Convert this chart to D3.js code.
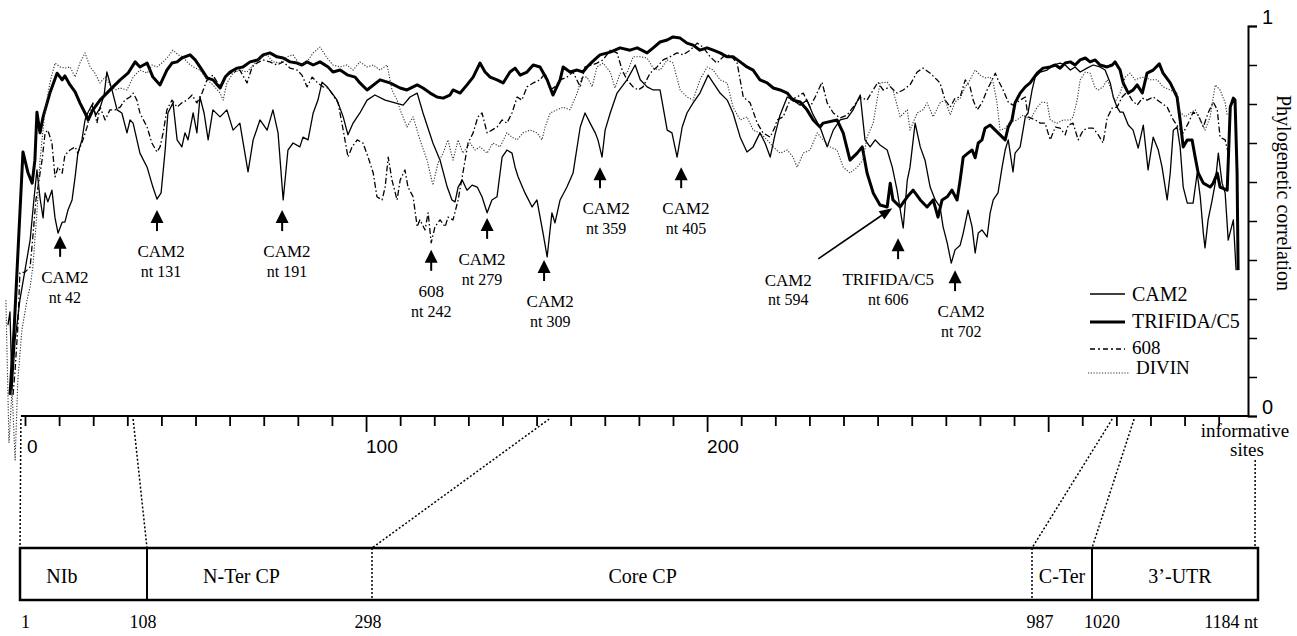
<!DOCTYPE html>
<html>
<head>
<meta charset="utf-8">
<script src="https://cdn.jsdelivr.net/npm/d3@7"></script>
<style>
  body { margin: 0; background: #fff; }
  svg { display: block; }
</style>
</head>
<body>
<svg id="chart" width="1297" height="636"></svg>
<script>
// ── DATA : [informative site, phylogenetic correlation] ────────────────────
const cam2 = [
[-5.0,0.233],[-4.4,0.267],[-3.8,0.067],[-2.9,0.195],[-1.5,0.297],[0,0.374],[1.5,0.451],[2.6,0.554],[3.5,0.631],[4.4,0.559],[5.3,0.508],[5.9,0.572],[6.7,0.549],[7.9,0.579],[8.8,0.508],[9.7,0.469],[10.9,0.497],[11.7,0.497],[12.6,0.528],[13.8,0.554],[14.7,0.613],[15.5,0.674],[16.7,0.708],[17.6,0.759],[18.5,0.779],[19.6,0.797],[20.8,0.772],[22.0,0.790],[23.2,0.823],[24.0,0.882],[25.5,0.836],[27.0,0.785],[28.4,0.777],[29.9,0.726],[30.8,0.759],[31.7,0.751],[33.7,0.674],[35.8,0.638],[37.5,0.587],[38.7,0.556],[39.9,0.572],[41.1,0.682],[41.9,0.777],[43.4,0.803],[44.6,0.708],[46.0,0.690],[46.9,0.726],[47.8,0.708],[49.3,0.777],[50.4,0.726],[51.3,0.818],[52.5,0.777],[53.7,0.708],[55.1,0.785],[57.2,0.767],[59.2,0.785],[61.0,0.733],[63.0,0.751],[65.4,0.626],[66.9,0.708],[68.9,0.759],[71.0,0.733],[72.7,0.785],[74.2,0.726],[75.7,0.554],[77.1,0.682],[78.6,0.700],[80.6,0.690],[81.5,0.715],[83.0,0.708],[84.5,0.777],[85.9,0.810],[87.1,0.856],[88.6,0.844],[90.0,0.828],[91.5,0.810],[93.3,0.767],[94.7,0.721],[96.2,0.751],[98.2,0.777],[100.3,0.810],[102.6,0.823],[105.6,0.810],[108.5,0.803],[110.9,0.797],[112.9,0.818],[115.0,0.828],[116.7,0.777],[119.6,0.700],[121.7,0.656],[123.8,0.587],[125.2,0.554],[126.1,0.549],[127.0,0.587],[128.2,0.605],[129.6,0.579],[131.1,0.592],[132.6,0.587],[134.0,0.562],[135.5,0.521],[136.9,0.554],[138.4,0.562],[139.9,0.664],[141.3,0.682],[142.8,0.674],[143.7,0.638],[144.6,0.613],[146.6,0.572],[148.7,0.536],[150.1,0.554],[151.9,0.469],[153.1,0.408],[154.5,0.521],[155.4,0.495],[156.9,0.554],[158.9,0.587],[160.7,0.623],[162.8,0.741],[164.2,0.777],[165.7,0.751],[167.2,0.726],[168.0,0.708],[169.2,0.664],[170.1,0.733],[171.6,0.777],[173.6,0.828],[176.5,0.862],[178.9,0.900],[180.4,0.862],[182.4,0.844],[184.2,0.836],[186.2,0.836],[188.3,0.733],[189.7,0.726],[191.2,0.664],[192.7,0.741],[194.1,0.777],[195.9,0.803],[197.9,0.828],[200.3,0.874],[201.8,0.854],[203.8,0.828],[205.9,0.810],[207.6,0.777],[209.7,0.715],[211.7,0.677],[213.5,0.690],[215.5,0.726],[217.0,0.700],[218.5,0.664],[219.9,0.721],[221.4,0.772],[223.5,0.818],[225.2,0.810],[227.3,0.797],[229.3,0.810],[231.1,0.772],[233.1,0.741],[235.2,0.690],[237.0,0.733],[239.0,0.759],[241.1,0.764],[242.8,0.785],[244.9,0.823],[246.3,0.708],[247.8,0.690],[249.3,0.708],[250.7,0.695],[252.8,0.682],[254.3,0.638],[255.7,0.579],[257.5,0.482],[258.7,0.605],[259.5,0.638],[261.0,0.751],[262.5,0.690],[263.9,0.656],[265.4,0.587],[266.9,0.554],[268.3,0.536],[269.2,0.485],[270.4,0.444],[271.6,0.392],[272.7,0.426],[274.2,0.438],[275.1,0.469],[276.5,0.528],[277.7,0.485],[278.6,0.418],[279.5,0.469],[280.6,0.477],[282.1,0.459],[283.0,0.521],[283.9,0.554],[285.3,0.572],[286.5,0.638],[287.4,0.682],[288.3,0.708],[289.7,0.626],[290.3,0.674],[291.8,0.690],[293.3,0.767],[294.1,0.777],[295.3,0.836],[296.2,0.869],[297.7,0.882],[299.7,0.887],[301.5,0.900],[303.5,0.905],[305.0,0.900],[306.5,0.887],[307.9,0.895],[309.4,0.882],[311.4,0.892],[313.2,0.900],[315.2,0.895],[316.7,0.887],[318.2,0.854],[319.1,0.818],[320.2,0.792],[321.1,0.779],[322.0,0.779],[323.5,0.746],[324.9,0.733],[326.4,0.687],[327.9,0.746],[329.3,0.631],[330.8,0.715],[332.3,0.682],[333.4,0.638],[334.9,0.554],[335.8,0.623],[336.7,0.733],[337.8,0.741],[338.7,0.690],[339.6,0.587],[340.8,0.546],[342.5,0.546],[343.7,0.623],[344.6,0.562],[345.5,0.469],[346.0,0.431],[346.9,0.503],[348.1,0.554],[349.0,0.597],[349.9,0.674],[351.0,0.597],[351.9,0.572],[352.8,0.451],[354.3,0.503],[355.1,0.374]
];

const trifida = [
[-4.4,0.054],[-3.2,0.221],[-0.6,0.677],[0.9,0.623],[2.1,0.597],[2.9,0.656],[3.5,0.779],[4.4,0.726],[5.3,0.767],[7.3,0.828],[9.4,0.879],[10.9,0.862],[11.7,0.872],[13.2,0.849],[14.7,0.831],[16.1,0.803],[17.6,0.777],[18.5,0.759],[19.9,0.785],[22.0,0.810],[24.0,0.828],[25.8,0.844],[27.9,0.862],[30.2,0.879],[32.3,0.908],[33.7,0.895],[35.8,0.905],[37.5,0.869],[39.6,0.849],[41.6,0.887],[43.1,0.905],[44.6,0.908],[46.0,0.918],[48.4,0.926],[49.9,0.913],[51.3,0.895],[53.4,0.867],[55.1,0.862],[57.2,0.841],[58.7,0.869],[60.1,0.882],[62.2,0.892],[63.9,0.895],[66.0,0.908],[68.3,0.913],[69.8,0.926],[71.8,0.931],[73.9,0.921],[75.7,0.918],[77.7,0.908],[79.8,0.905],[81.2,0.900],[82.7,0.908],[84.5,0.900],[86.5,0.908],[88.9,0.895],[90.3,0.882],[92.4,0.887],[94.7,0.874],[96.8,0.869],[98.2,0.854],[100.3,0.836],[104.1,0.862],[107.0,0.854],[110.0,0.841],[112.0,0.836],[115.0,0.849],[116.7,0.841],[118.8,0.828],[120.8,0.818],[122.6,0.815],[124.6,0.823],[125.5,0.836],[127.6,0.828],[129.6,0.849],[131.4,0.869],[133.4,0.905],[134.9,0.882],[136.4,0.869],[138.4,0.862],[140.2,0.854],[142.2,0.882],[143.7,0.892],[145.2,0.874],[147.2,0.882],[149.0,0.900],[151.0,0.895],[153.1,0.862],[154.8,0.823],[156.9,0.862],[157.8,0.895],[159.8,0.882],[161.9,0.887],[163.6,0.882],[164.8,0.895],[166.3,0.908],[168.6,0.926],[171.6,0.933],[174.5,0.944],[177.4,0.938],[179.5,0.944],[182.4,0.931],[184.2,0.944],[186.2,0.959],[188.3,0.964],[190.0,0.972],[192.1,0.969],[194.1,0.956],[195.9,0.951],[197.9,0.938],[200.0,0.944],[201.8,0.938],[203.8,0.931],[205.9,0.921],[207.6,0.921],[209.7,0.908],[211.7,0.895],[213.5,0.887],[215.5,0.862],[217.6,0.854],[219.4,0.841],[221.4,0.836],[223.5,0.828],[225.2,0.810],[227.3,0.805],[229.3,0.785],[231.1,0.759],[233.1,0.741],[234.0,0.751],[238.1,0.759],[239.9,0.726],[241.9,0.656],[244.0,0.674],[245.5,0.690],[246.9,0.623],[248.7,0.572],[250.7,0.541],[252.8,0.536],[253.7,0.597],[254.5,0.554],[256.6,0.536],[258.7,0.562],[260.4,0.579],[262.5,0.554],[264.5,0.536],[266.3,0.554],[267.7,0.510],[268.9,0.554],[270.4,0.562],[271.8,0.579],[273.3,0.554],[274.2,0.605],[275.1,0.664],[276.5,0.674],[277.7,0.682],[278.6,0.662],[279.5,0.700],[280.6,0.708],[281.5,0.738],[283.0,0.746],[284.5,0.733],[285.9,0.721],[287.4,0.708],[288.3,0.741],[289.4,0.759],[290.3,0.803],[291.8,0.828],[293.3,0.844],[294.7,0.854],[296.8,0.879],[298.5,0.892],[300.6,0.895],[302.1,0.900],[303.5,0.892],[305.0,0.905],[306.5,0.908],[307.9,0.900],[309.4,0.913],[310.9,0.918],[312.3,0.908],[313.8,0.913],[315.2,0.900],[317.3,0.895],[318.8,0.900],[319.6,0.908],[321.1,0.887],[322.0,0.854],[323.5,0.828],[324.9,0.836],[326.1,0.849],[327.6,0.828],[329.0,0.879],[330.8,0.887],[332.6,0.903],[333.7,0.879],[335.8,0.854],[337.8,0.818],[338.7,0.759],[339.6,0.690],[340.8,0.708],[342.2,0.708],[343.1,0.664],[344.0,0.623],[345.5,0.597],[347.5,0.587],[348.4,0.597],[349.6,0.623],[350.4,0.587],[352.5,0.579],[353.4,0.792],[354.3,0.815],[354.8,0.810],[355.4,0.623],[355.7,0.374]
];

const s608 = [
[-3.5,0.054],[-2.9,0.118],[-2.1,0.228],[-1.5,0.367],[0,0.369],[1.5,0.382],[2.3,0.459],[3.2,0.554],[3.8,0.587],[5.0,0.656],[5.9,0.726],[6.7,0.733],[7.9,0.700],[8.8,0.613],[9.7,0.638],[10.9,0.623],[11.7,0.669],[13.2,0.682],[14.7,0.690],[15.5,0.674],[17.0,0.708],[18.2,0.741],[19.1,0.777],[19.9,0.803],[21.1,0.751],[22.0,0.792],[23.5,0.759],[24.9,0.785],[26.4,0.785],[27.9,0.792],[29.3,0.810],[30.8,0.818],[31.7,0.828],[32.8,0.810],[33.7,0.777],[35.8,0.741],[37.2,0.700],[38.7,0.677],[39.6,0.690],[40.5,0.726],[41.6,0.785],[43.1,0.810],[44.6,0.792],[46.0,0.803],[47.5,0.810],[49.0,0.823],[50.4,0.803],[51.9,0.828],[53.4,0.862],[55.1,0.874],[57.2,0.844],[59.2,0.874],[61.0,0.882],[63.0,0.887],[65.1,0.854],[66.6,0.895],[68.0,0.905],[69.8,0.913],[71.8,0.908],[73.9,0.900],[75.7,0.908],[77.7,0.892],[79.8,0.887],[81.2,0.874],[82.7,0.844],[84.2,0.869],[85.6,0.856],[87.4,0.844],[88.9,0.841],[90.3,0.823],[91.8,0.803],[93.3,0.733],[94.7,0.664],[95.9,0.690],[97.4,0.708],[99.1,0.700],[100.6,0.664],[102.1,0.623],[103.2,0.562],[104.7,0.554],[105.6,0.587],[106.5,0.664],[107.6,0.605],[109.1,0.554],[110.0,0.605],[111.4,0.631],[112.3,0.587],[113.8,0.562],[115.0,0.485],[115.8,0.503],[117.3,0.477],[118.2,0.521],[119.1,0.444],[120.2,0.485],[121.7,0.503],[123.2,0.485],[124.0,0.510],[125.5,0.503],[127.0,0.554],[128.4,0.623],[129.9,0.700],[131.4,0.726],[132.8,0.767],[134.0,0.777],[135.5,0.726],[136.9,0.733],[138.4,0.741],[139.9,0.759],[141.3,0.751],[142.8,0.777],[144.3,0.818],[145.7,0.810],[147.2,0.844],[149.0,0.854],[151.0,0.862],[152.5,0.879],[154.0,0.836],[155.4,0.844],[156.9,0.862],[158.9,0.869],[160.7,0.882],[162.8,0.844],[164.2,0.895],[166.3,0.900],[167.7,0.905],[169.5,0.913],[171.6,0.938],[173.6,0.931],[175.1,0.887],[176.5,0.862],[178.3,0.844],[179.8,0.836],[181.2,0.844],[183.3,0.879],[185.3,0.895],[187.1,0.913],[189.1,0.921],[191.2,0.931],[193.0,0.926],[195.0,0.938],[197.1,0.956],[198.8,0.946],[200.9,0.921],[202.9,0.905],[204.7,0.921],[206.7,0.926],[208.8,0.905],[210.6,0.818],[212.6,0.803],[214.7,0.751],[216.4,0.726],[218.5,0.715],[219.9,0.741],[220.5,0.759],[222.3,0.767],[224.3,0.810],[226.4,0.818],[228.2,0.828],[230.2,0.792],[231.7,0.818],[233.7,0.856],[235.2,0.803],[237.0,0.777],[239.0,0.764],[241.1,0.772],[242.8,0.792],[244.9,0.818],[246.9,0.810],[248.7,0.836],[250.1,0.856],[251.6,0.836],[253.7,0.844],[255.7,0.828],[257.5,0.836],[259.5,0.849],[261.6,0.882],[263.3,0.892],[265.4,0.879],[267.4,0.862],[268.3,0.854],[269.8,0.810],[271.3,0.792],[272.7,0.815],[274.2,0.818],[275.7,0.862],[277.1,0.844],[278.0,0.810],[279.2,0.785],[280.6,0.803],[282.1,0.836],[283.6,0.862],[284.5,0.879],[285.3,0.862],[286.8,0.836],[288.3,0.805],[289.7,0.797],[291.8,0.810],[293.3,0.818],[294.1,0.767],[296.2,0.759],[297.7,0.751],[299.1,0.751],[300.6,0.708],[302.1,0.741],[303.5,0.738],[305.0,0.721],[305.9,0.746],[307.3,0.751],[308.8,0.708],[310.3,0.733],[311.7,0.738],[313.2,0.738],[314.7,0.721],[316.1,0.700],[317.3,0.764],[318.8,0.790],[320.2,0.792],[321.7,0.818],[323.2,0.831],[324.6,0.810],[326.1,0.797],[327.6,0.815],[329.0,0.810],[330.8,0.818],[332.8,0.805],[334.9,0.792],[336.7,0.759],[338.1,0.741],[339.6,0.726],[341.1,0.751],[342.5,0.779],[344.0,0.772],[345.5,0.741],[346.9,0.777],[348.4,0.805],[349.6,0.785],[350.4,0.715],[351.9,0.708],[352.8,0.674]
];

const divin = [
[-5.6,0.297],[-4.7,-0.069],[-3.8,0.067],[-2.9,-0.113],[-2.1,0.092],[-0.9,0.221],[0.6,0.297],[1.5,0.331],[2.3,0.382],[3.5,0.521],[4.4,0.656],[5.9,0.785],[7.3,0.854],[8.8,0.905],[10.3,0.895],[11.7,0.892],[13.2,0.895],[14.7,0.869],[16.1,0.905],[17.6,0.931],[19.1,0.895],[20.5,0.879],[22.0,0.854],[23.5,0.869],[24.9,0.849],[26.4,0.836],[27.9,0.841],[29.9,0.836],[31.7,0.869],[33.7,0.887],[35.8,0.879],[37.2,0.900],[38.7,0.895],[40.5,0.908],[41.9,0.921],[43.4,0.938],[44.9,0.926],[46.3,0.921],[47.8,0.905],[49.3,0.895],[51.3,0.887],[53.4,0.862],[55.1,0.849],[57.2,0.828],[58.1,0.810],[59.2,0.854],[61.0,0.879],[63.0,0.887],[65.1,0.882],[66.9,0.900],[68.9,0.918],[71.0,0.926],[72.7,0.908],[74.8,0.905],[76.8,0.921],[78.6,0.926],[80.6,0.900],[82.7,0.908],[84.5,0.931],[86.5,0.946],[88.6,0.918],[90.3,0.900],[92.4,0.895],[94.4,0.900],[96.2,0.887],[98.2,0.908],[100.3,0.895],[102.1,0.900],[104.1,0.887],[106.2,0.900],[107.6,0.836],[109.1,0.810],[110.0,0.785],[112.0,0.741],[113.8,0.767],[115.8,0.708],[117.9,0.656],[119.6,0.592],[121.1,0.649],[122.6,0.674],[124.0,0.708],[125.5,0.656],[127.0,0.708],[128.4,0.674],[130.5,0.700],[132.0,0.682],[133.4,0.690],[135.5,0.674],[137.2,0.700],[139.3,0.690],[141.3,0.726],[142.8,0.715],[144.3,0.708],[146.0,0.726],[148.1,0.733],[150.1,0.726],[151.6,0.708],[152.5,0.741],[154.0,0.777],[156.0,0.785],[157.8,0.792],[159.8,0.785],[161.9,0.828],[163.3,0.869],[164.8,0.869],[166.3,0.844],[167.7,0.895],[169.5,0.905],[171.6,0.882],[173.0,0.841],[174.5,0.879],[176.5,0.879],[178.3,0.921],[180.4,0.921],[182.4,0.918],[184.2,0.892],[186.2,0.887],[188.3,0.913],[190.0,0.905],[192.1,0.836],[194.1,0.818],[195.9,0.810],[197.9,0.862],[200.0,0.895],[201.8,0.887],[203.8,0.862],[205.9,0.854],[207.6,0.792],[209.7,0.759],[211.7,0.767],[213.5,0.733],[215.5,0.726],[217.6,0.708],[219.4,0.690],[221.4,0.674],[223.5,0.682],[225.2,0.664],[226.4,0.638],[228.2,0.674],[230.2,0.682],[232.3,0.726],[234.0,0.708],[236.1,0.690],[238.1,0.682],[239.9,0.638],[241.9,0.623],[244.0,0.638],[245.7,0.656],[246.9,0.715],[248.7,0.751],[250.7,0.854],[252.8,0.856],[254.5,0.836],[256.6,0.767],[258.7,0.785],[259.5,0.733],[261.6,0.777],[263.3,0.785],[264.5,0.803],[266.3,0.767],[268.3,0.803],[269.8,0.810],[271.3,0.772],[272.7,0.805],[274.2,0.815],[275.7,0.844],[277.1,0.862],[278.6,0.887],[280.1,0.874],[281.5,0.867],[283.0,0.869],[283.9,0.854],[285.0,0.803],[285.9,0.733],[287.4,0.738],[288.9,0.754],[290.9,0.759],[292.7,0.772],[294.7,0.759],[296.8,0.792],[298.2,0.805],[299.7,0.803],[300.6,0.759],[302.6,0.751],[304.4,0.759],[306.5,0.759],[307.3,0.767],[308.5,0.810],[309.4,0.862],[310.9,0.882],[312.3,0.879],[313.8,0.841],[314.7,0.836],[316.1,0.844],[317.3,0.862],[318.2,0.844],[319.6,0.805],[321.1,0.828],[322.6,0.869],[324.0,0.879],[325.5,0.862],[327.0,0.867],[328.4,0.869],[329.9,0.862],[332.0,0.862],[333.7,0.844],[335.8,0.836],[337.8,0.828],[338.7,0.779],[340.2,0.767],[341.6,0.777],[343.1,0.785],[344.6,0.759],[346.0,0.733],[347.5,0.767],[349.0,0.849],[350.4,0.836],[351.9,0.803],[352.5,0.772]
];

const seriesNames = ['CAM2', 'TRIFIDA/C5', '608', 'DIVIN'];

// breakpoints: arrow tip (site, correlation), label centre site, label text
const breakSites  = [10.3, 38.7, 75.4, 119.1, 135.5, 152.2, 168.6, 192.4, 256.0, 272.7];
const breakValues = [0.462, 0.528, 0.528, 0.426, 0.508, 0.400, 0.638, 0.638, 0.456, 0.374];
const breakLabelSites = [11.7, 39.9, 76.8, 119.1, 134.0, 154.0, 170.4, 193.8, 253.1, 274.5];
const breakIsolates = ['CAM2', 'CAM2', 'CAM2', '608', 'CAM2', 'CAM2', 'CAM2', 'CAM2', 'TRIFIDA/C5', 'CAM2'];
const breakNt = ['nt 42', 'nt 131', 'nt 191', 'nt 242', 'nt 279', 'nt 309', 'nt 359', 'nt 405', 'nt 606', 'nt 702'];

// callout for CAM2 nt 594 : from label to point
const callout = { isolate: 'CAM2', nt: 'nt 594', labelSite: 223.8, labelValue: 0.333,
                  fromSite: 232.6, fromValue: 0.403, toSite: 254.3, toValue: 0.533 };

const xTicks = d3.range(0, 351, 10);
const xLabels = [0, 100, 200];
const yTicks = d3.range(0, 1.01, 0.1);

// genome map
const regionNames  = ['NIb', 'N-Ter CP', 'Core CP', 'C-Ter', '3\u2019-UTR'];
const regionBounds = [1, 108, 298, 987, 1020, 1184];
const boundSites   = [-1.2, 31.7, 153.7, 318.8, 325.2, 360.7];

// ── LAYOUT ─────────────────────────────────────────────────────────────────
const SERIF = "'Liberation Serif', 'Times New Roman', serif";
const SANS  = "'Liberation Sans', Arial, sans-serif";

const svg = d3.select('#chart');
const x = d3.scaleLinear().domain([0, 358.6]).range([25, 1248]);
const y = d3.scaleLinear().domain([0, 1]).range([416, 26]);
const nt = d3.scaleLinear().domain(regionBounds).range([20, 147, 372, 1032, 1092, 1258]);

// x axis
const xAxis = svg.append('g').attr('transform', 'translate(0,416)')
  .call(d3.axisBottom(x).tickValues(xTicks).tickSize(10).tickFormat(''));
xAxis.select('.domain').remove();
xAxis.selectAll('.tick line').attr('stroke', '#000').attr('stroke-width', 1.8)
  .attr('y2', d => d > 0 && d % 100 === 0 ? 16 : 10);
svg.append('line').attr('x1', x(-1.2)).attr('x2', x.range()[1])
  .attr('y1', 416).attr('y2', 416).attr('stroke', '#000').attr('stroke-width', 2);
svg.selectAll('.xlab').data(xLabels).enter().append('text')
  .attr('x', d => x(d) + (d === 0 ? 2 : 0)).attr('y', 453)
  .attr('font-family', SANS).attr('font-size', 19).text(d => d);

// y axis (right)
const yAxis = svg.append('g').attr('transform', 'translate(1248,0)')
  .call(d3.axisRight(y).tickValues(yTicks).tickSize(9).tickFormat(''));
yAxis.select('.domain').attr('stroke', '#000').attr('stroke-width', 2);
yAxis.selectAll('.tick line').attr('stroke', '#000').attr('stroke-width', 1.5);
svg.selectAll('.ylab').data([0, 1]).enter().append('text')
  .attr('x', 1262).attr('y', d => y(d) - 2)
  .attr('font-family', SANS).attr('font-size', 20).text(d => d);

svg.append('text').attr('transform', 'translate(1277,193) rotate(90)')
  .attr('text-anchor', 'middle').attr('font-family', SERIF).attr('font-size', 20)
  .text('Phylogenetic correlation');

svg.append('text').attr('x', 1245).attr('y', 437).attr('text-anchor', 'middle')
  .attr('font-family', SERIF).attr('font-size', 19).text('informative');
svg.append('text').attr('x', 1247).attr('y', 456).attr('text-anchor', 'middle')
  .attr('font-family', SERIF).attr('font-size', 19).text('sites');

// series
const styles = [
  { w: 1.3, dash: null, col: '#000' },
  { w: 3.0, dash: null, col: '#000' },
  { w: 1.3, dash: '6,2.5,1.5,2.5', col: '#000' },
  { w: 1.1, dash: '1.2,1.6', col: '#333' }
];
const line = d3.line().x(d => x(d[0])).y(d => y(d[1]));
[cam2, trifida, s608, divin].forEach((s, i) => {
  svg.append('path').datum(s).attr('fill', 'none')
    .attr('stroke', styles[i].col).attr('stroke-width', styles[i].w)
    .attr('stroke-linejoin', 'round')
    .attr('stroke-dasharray', styles[i].dash).attr('d', line);
});

// legend
const legY = [294, 322, 349, 373];
const legTextY = [301, 328, 354, 374];
seriesNames.forEach((name, i) => {
  svg.append('line').attr('x1', i === 3 ? 1088 : 1090).attr('x2', i === 3 ? 1130 : 1125)
    .attr('y1', legY[i]).attr('y2', legY[i])
    .attr('stroke', styles[i].col).attr('stroke-width', styles[i].w)
    .attr('stroke-dasharray', i === 2 ? '5,3,2,3' : styles[i].dash);
  svg.append('text').attr('x', i === 3 ? 1136 : 1132).attr('y', legTextY[i])
    .attr('font-family', SERIF).attr('font-size', i < 2 ? 20 : 19).text(name);
});

// breakpoint arrows
const arrowPath = 'M0,0 L6.5,13 L-6.5,13 Z';
breakSites.forEach((s, i) => {
  const tx = x(s), ty = y(breakValues[i]);
  const g = svg.append('g').attr('transform', `translate(${tx},${ty})`);
  g.append('path').attr('d', arrowPath).attr('fill', '#000');
  g.append('line').attr('x1', 0).attr('x2', 0).attr('y1', 12).attr('y2', 21)
    .attr('stroke', '#000').attr('stroke-width', 2);
  const lx = x(breakLabelSites[i]);
  svg.append('text').attr('x', lx).attr('y', ty + 47).attr('text-anchor', 'middle')
    .attr('font-family', SERIF).attr('font-size', 17).text(breakIsolates[i]);
  svg.append('text').attr('x', lx).attr('y', ty + 67).attr('text-anchor', 'middle')
    .attr('font-family', SERIF).attr('font-size', 16).text(breakNt[i]);
});

// callout
{
  const x1 = x(callout.fromSite), y1 = y(callout.fromValue);
  const x2 = x(callout.toSite),   y2 = y(callout.toValue);
  const ang = Math.atan2(y2 - y1, x2 - x1);
  svg.append('line').attr('x1', x1).attr('y1', y1).attr('x2', x2 - 10 * Math.cos(ang)).attr('y2', y2 - 10 * Math.sin(ang))
    .attr('stroke', '#000').attr('stroke-width', 1.6);
  svg.append('path').attr('d', 'M0,0 L-13,-5 L-13,5 Z').attr('fill', '#000')
    .attr('transform', `translate(${x2},${y2}) rotate(${ang * 180 / Math.PI})`);
  const lx = x(callout.labelSite), ly = y(callout.labelValue);
  svg.append('text').attr('x', lx).attr('y', ly).attr('text-anchor', 'middle')
    .attr('font-family', SERIF).attr('font-size', 17).text(callout.isolate);
  svg.append('text').attr('x', lx).attr('y', ly + 19).attr('text-anchor', 'middle')
    .attr('font-family', SERIF).attr('font-size', 16).text(callout.nt);
}

// ── GENOME MAP ─────────────────────────────────────────────────────────────
const boxTop = 548, boxBot = 600;
// connectors from informative sites to nucleotide positions
regionBounds.forEach((b, i) => {
  svg.append('line')
    .attr('x1', x(boundSites[i])).attr('y1', i === 5 ? 460 : 419)
    .attr('x2', nt(b) - (i === 5 ? 3 : 0)).attr('y2', boxTop)
    .attr('stroke', '#000').attr('stroke-width', 1.5).attr('stroke-dasharray', '2,2');
});
svg.append('rect').attr('x', nt(1)).attr('y', boxTop)
  .attr('width', nt(1184) - nt(1)).attr('height', boxBot - boxTop)
  .attr('fill', 'none').attr('stroke', '#000').attr('stroke-width', 2.5);
regionBounds.slice(1, -1).forEach(b => {
  const dotted = b === 298 || b === 987;
  svg.append('line').attr('x1', nt(b)).attr('x2', nt(b)).attr('y1', boxTop).attr('y2', boxBot)
    .attr('stroke', '#000').attr('stroke-width', dotted ? 1.5 : 2)
    .attr('stroke-dasharray', dotted ? '2,2' : null);
});
const labelFrac = [0.33, 0.42, 0.41, 0.5, 0.53];
regionNames.forEach((name, i) => {
  const a = nt(regionBounds[i]), b = nt(regionBounds[i + 1]);
  svg.append('text').attr('x', a + (b - a) * labelFrac[i]).attr('y', 583)
    .attr('text-anchor', 'middle').attr('font-family', SERIF).attr('font-size', 20).text(name);
});
// nucleotide labels
const ntDx = [1, -4, -4, 8, 10, 0];
regionBounds.forEach((b, i) => {
  const last = i === regionBounds.length - 1;
  svg.append('text').attr('x', nt(b) + ntDx[i]).attr('y', 628)
    .attr('text-anchor', i === 0 ? 'start' : (last ? 'end' : 'middle'))
    .attr('font-family', SERIF).attr('font-size', 18)
    .text(last ? b + ' nt' : b);
});
</script>
</body>
</html>
